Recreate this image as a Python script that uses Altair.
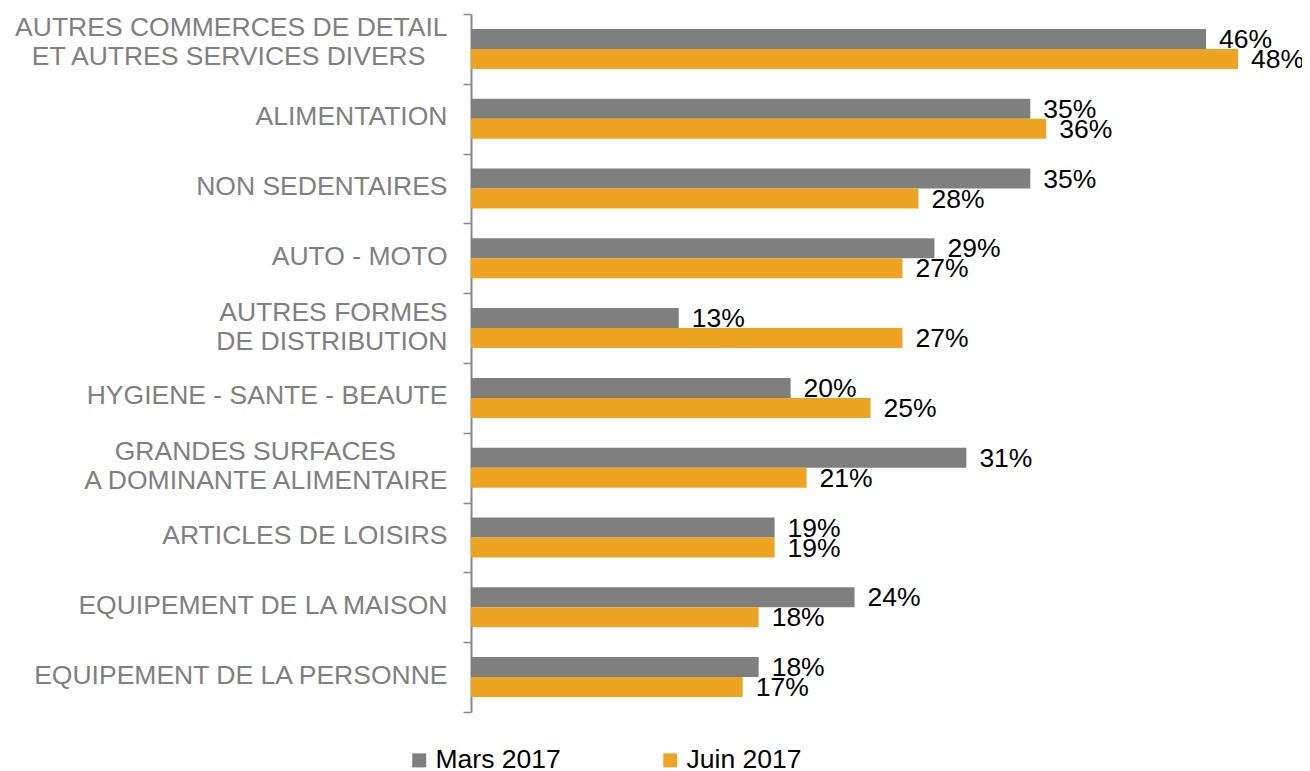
import altair as alt
import pandas as pd

categories = [
    "AUTRES COMMERCES DE DETAIL\nET AUTRES SERVICES DIVERS\u00a0\u00a0\u00a0\u200b",
    "ALIMENTATION",
    "NON SEDENTAIRES",
    "AUTO - MOTO",
    "AUTRES FORMES\nDE DISTRIBUTION",
    "HYGIENE - SANTE - BEAUTE",
    "GRANDES SURFACES\u00a0\u00a0\u00a0\u00a0\u00a0\u00a0\u00a0\u200b\nA DOMINANTE ALIMENTAIRE",
    "ARTICLES DE LOISIRS",
    "EQUIPEMENT DE LA MAISON",
    "EQUIPEMENT DE LA PERSONNE",
]
series = ["Mars 2017", "Juin 2017"]
mars = [46, 35, 35, 29, 13, 20, 31, 19, 24, 18]
juin = [48, 36, 28, 27, 27, 25, 21, 19, 18, 17]
colors = ["#7F7F7F", "#EEA423"]

rows = []
for c, m, j in zip(categories, mars, juin):
    rows.append({"cat": c, "serie": series[0], "v": m})
    rows.append({"cat": c, "serie": series[1], "v": j})
df = pd.DataFrame(rows)

FONT = "Liberation Sans"

y = alt.Y(
    "cat:N",
    sort=categories,
    scale=alt.Scale(paddingInner=0, paddingOuter=0),
    axis=alt.Axis(
        title=None,
        labelExpr="split(datum.label, '\\n')",
        labelFont=FONT,
        labelFontSize=26.5,
        labelColor="#808080",
        labelLineHeight=29,
        labelPadding=16,
        labelLimit=600,
        labelOffset={
            "condition": [
                {"test": "indexof(datum.label, 'DETAIL') >= 0", "value": -21},
                {"test": "indexof(datum.label, '\\n') >= 0", "value": -16},
            ],
            "value": -2,
        },
        tickBand="extent",
        tickSize=8,
        tickColor="#888888",
        tickWidth=1.5,
        domainColor="#888888",
        domainWidth=2,
        grid=False,
    ),
)
yoff = alt.YOffset("serie:N", sort=series, scale=alt.Scale(paddingInner=0, paddingOuter=0.745))
x = alt.X("v:Q", scale=alt.Scale(domain=[0, 50], nice=False), axis=None)

bars = alt.Chart(df).mark_bar().encode(
    x=x,
    y=y,
    yOffset=yoff,
    color=alt.Color(
        "serie:N",
        sort=series,
        scale=alt.Scale(domain=series, range=colors),
        legend=alt.Legend(
            title=None,
            orient="none",
            direction="horizontal",
            legendX=-65,
            legendY=733,
            symbolType="square",
            symbolSize=196,
            symbolStrokeWidth=0,
            labelFont=FONT,
            labelFontSize=26.5,
            labelColor="#000000",
            labelOffset=3,
            columnPadding=96,
            padding=0,
        ),
    ),
)

text = alt.Chart(df).transform_calculate(lab="datum.v + '%'").mark_text(
    align="left", baseline="middle", dx=13, dy=1, font=FONT, fontSize=26.5, color="#000000"
).encode(x=x, y=y, yOffset=yoff, text="lab:N")

chart = alt.layer(bars, text).properties(
    width=799,
    height=698,
    autosize="none",
    padding={"left": 463, "top": 6, "right": 32, "bottom": 64},
).configure_view(stroke=None)

chart.save("out.html", embed_options={"renderer": "svg", "actions": False})
